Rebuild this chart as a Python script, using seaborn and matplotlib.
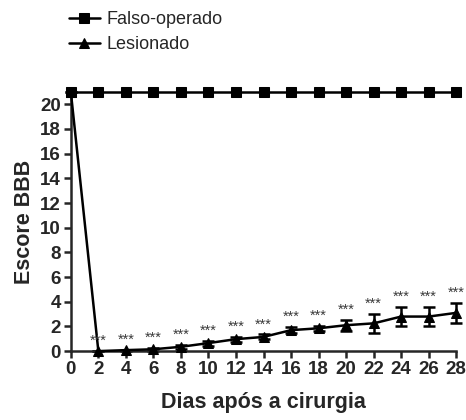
import matplotlib
matplotlib.use("Agg")
import matplotlib.pyplot as plt
import seaborn as sns
import pandas as pd
import numpy as np

days = [0, 2, 4, 6, 8, 10, 12, 14, 16, 18, 20, 22, 24, 26, 28]
falso = [21] * 15
lesionado = [21, 0.0, 0.08, 0.15, 0.35, 0.65, 0.97, 1.15, 1.7, 1.85, 2.1, 2.25, 2.8, 2.8, 3.1]
lesionado_sem = [0, 0.0, 0.05, 0.1, 0.15, 0.2, 0.2, 0.2, 0.25, 0.2, 0.45, 0.75, 0.75, 0.75, 0.8]
sig_days = [2, 4, 6, 8, 10, 12, 14, 16, 18, 20, 22, 24, 26, 28]
sig_label = "***"
xticks = list(range(0, 29, 2))
yticks = list(range(0, 21, 2))

sns.set_style("ticks")
plt.rcParams['font.family'] = ['Liberation Sans', 'DejaVu Sans']

fig = plt.figure(figsize=(4.66, 4.2), dpi=100)
ax = fig.add_axes([0.152, 0.164, 0.827, 0.617])

df = pd.DataFrame({"Dias": days * 2,
                   "Escore": falso + lesionado,
                   "Grupo": ["Falso-operado"] * 15 + ["Lesionado"] * 15})

sns.lineplot(data=df, x="Dias", y="Escore", hue="Grupo", style="Grupo",
             palette=["black", "black"], markers={"Falso-operado": "s", "Lesionado": "^"},
             dashes=False, markersize=7, linewidth=1.8, ax=ax, clip_on=False,
             markeredgecolor="black", zorder=3)

ax.errorbar(days, lesionado, yerr=lesionado_sem, fmt="none", ecolor="black",
            elinewidth=1.8, capsize=4, capthick=1.8, clip_on=False, zorder=2)

for d in sig_days:
    i = days.index(d)
    ax.text(d, lesionado[i] + lesionado_sem[i] + 0.25, sig_label, ha="center", va="bottom",
            fontsize=10.5, color="#3a3a3a", clip_on=False)

ax.set_xlim(0, 28)
ax.set_ylim(0, 21)
ax.set_xticks(xticks)
ax.set_yticks(yticks)
ax.set_xticklabels([str(t) for t in xticks], fontweight="bold", fontsize=13.5)
ax.set_yticklabels([str(t) for t in yticks], fontweight="bold", fontsize=13.5)
ax.tick_params(width=1.8, length=5, direction="out", pad=2)
for s in ["left", "bottom"]:
    ax.spines[s].set_linewidth(1.8)
sns.despine(ax=ax)
ax.set_xlabel("Dias após a cirurgia", fontweight="bold", fontsize=15.5, labelpad=10)
ax.set_ylabel("Escore BBB", fontweight="bold", fontsize=15.5, labelpad=4)

handles, labels = ax.get_legend_handles_labels()
ax.legend(handles, labels, loc="upper left", bbox_to_anchor=(0.125, 1.0),
          bbox_transform=fig.transFigure, frameon=False, fontsize=13,
          handlelength=1.7, handletextpad=0.4, labelspacing=0.45, borderaxespad=0.2)

fig.savefig("out.png", dpi=100)
